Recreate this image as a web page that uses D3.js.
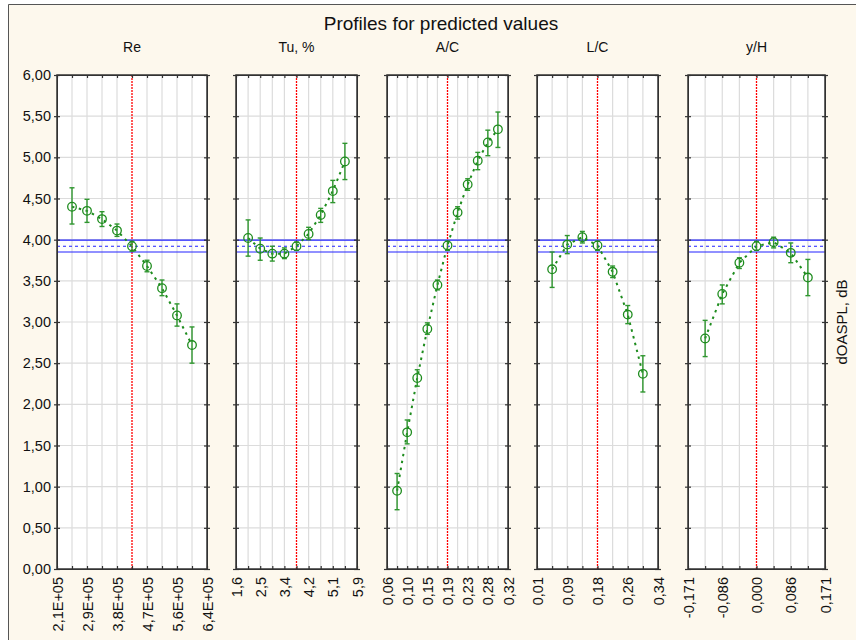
<!DOCTYPE html>
<html>
<head>
<meta charset="utf-8">
<script src="https://cdn.jsdelivr.net/npm/d3@7"></script>
<style>
  body { margin: 0; background: #ffffff; }
  svg text { font-family: "Liberation Sans", Arial, sans-serif; fill: #111; }
</style>
</head>
<body>
<svg id="chart" width="856" height="640"></svg>
<script>
// ---- data -------------------------------------------------------------
const chartTitle = "Profiles for predicted values";
const responseLabel = "dOASPL, dB";
const yTickValues = [0, 0.5, 1, 1.5, 2, 2.5, 3, 3.5, 4, 4.5, 5, 5.5, 6];

// overall prediction and its confidence band
const meanLevel = 3.92;
const bandLow = 3.85;
const bandHigh = 3.995;

const factorNames = ["Re", "Tu, %", "A/C", "L/C", "y/H"];

const reTickLabels = ["2,1E+05", "2,9E+05", "3,8E+05", "4,7E+05", "5,6E+05", "6,4E+05"];
const reValues = [4.40, 4.35, 4.25, 4.11, 3.92, 3.68, 3.41, 3.08, 2.72];
const reLower  = [4.19, 4.21, 4.16, 4.04, 3.86, 3.61, 3.32, 2.95, 2.50];
const reUpper  = [4.63, 4.49, 4.34, 4.19, 3.98, 3.75, 3.51, 3.22, 2.94];

const tuTickLabels = ["1,6", "2,5", "3,4", "4,2", "5,1", "5,9"];
const tuValues = [4.02, 3.89, 3.83, 3.83, 3.92, 4.07, 4.30, 4.59, 4.95];
const tuLower  = [3.80, 3.75, 3.74, 3.77, 3.87, 4.00, 4.21, 4.45, 4.73];
const tuUpper  = [4.24, 4.02, 3.92, 3.90, 3.97, 4.15, 4.38, 4.72, 5.17];

const acTickLabels = ["0,06", "0,10", "0,15", "0,19", "0,23", "0,28", "0,32"];
const acValues = [0.95, 1.66, 2.32, 2.915, 3.45, 3.93, 4.33, 4.67, 4.96, 5.18, 5.34];
const acLower  = [0.72, 1.52, 2.22, 2.85, 3.39, 3.87, 4.25, 4.60, 4.85, 5.02, 5.12];
const acUpper  = [1.16, 1.81, 2.42, 2.99, 3.51, 3.98, 4.40, 4.74, 5.06, 5.33, 5.55];

const lcTickLabels = ["0,01", "0,09", "0,18", "0,26", "0,34"];
const lcValues = [3.64, 3.94, 4.03, 3.93, 3.61, 3.09, 2.37];
const lcLower  = [3.42, 3.83, 3.96, 3.87, 3.54, 2.98, 2.15];
const lcUpper  = [3.85, 4.05, 4.10, 3.98, 3.68, 3.20, 2.59];

const yhTickLabels = ["-0,171", "-0,086", "0,000", "0,086", "0,171"];
const yhValues = [2.80, 3.34, 3.72, 3.92, 3.97, 3.84, 3.54];
const yhLower  = [2.58, 3.22, 3.65, 3.87, 3.90, 3.72, 3.32];
const yhUpper  = [3.02, 3.45, 3.78, 3.98, 4.03, 3.96, 3.76];

// ---- layout -----------------------------------------------------------
const plotTop = 75, plotBottom = 569;
const panelBounds = [[57, 207], [236, 357], [387, 508], [537, 658], [688, 825]];
const colors = {
  bg: "#fdf8ed", grid: "#dcdcdc", frame: "#333333",
  green: "#1e8c1e", errGreen: "#2f962f", red: "#ff0000", blue: "#2222ff"
};

const panels = [
  { name: factorNames[0], labels: reTickLabels, values: reValues, lower: reLower, upper: reUpper },
  { name: factorNames[1], labels: tuTickLabels, values: tuValues, lower: tuLower, upper: tuUpper },
  { name: factorNames[2], labels: acTickLabels, values: acValues, lower: acLower, upper: acUpper },
  { name: factorNames[3], labels: lcTickLabels, values: lcValues, lower: lcLower, upper: lcUpper },
  { name: factorNames[4], labels: yhTickLabels, values: yhValues, lower: yhLower, upper: yhUpper }
];

const locale = d3.formatLocale({ decimal: ",", thousands: " ", grouping: [3], currency: ["", ""] });
const fmt = locale.format(".2f");

const svg = d3.select("#chart");

// background and frame
svg.append("rect").attr("x", 8).attr("y", 4).attr("width", 848).attr("height", 636)
  .attr("fill", colors.bg);
svg.append("path").attr("d", "M8.5,640 V4.5 H856")
  .attr("fill", "none").attr("stroke", "#555").attr("stroke-width", 1);

const y = d3.scaleLinear().domain([0, 6]).range([plotBottom, plotTop]);

// title and response label
svg.append("text").attr("x", (panelBounds[0][0] + panelBounds[4][1]) / 2).attr("y", 30)
  .attr("text-anchor", "middle").style("font-size", "19px").text(chartTitle);

svg.append("text")
  .attr("transform", `translate(847,${(plotTop + plotBottom) / 2}) rotate(-90)`)
  .attr("text-anchor", "middle").style("font-size", "15px").text(responseLabel);

panels.forEach((p, i) => {
  const [x0, x1] = panelBounds[i];
  const nIntervals = (p.labels.length - 1) * 2;
  const x = d3.scaleLinear().domain([0, nIntervals]).range([x0, x1]);
  const pointIdx = p.values.map((_, k) => k + 1);
  const centerIdx = nIntervals / 2;
  const g = svg.append("g");

  g.append("rect").attr("x", x0).attr("y", plotTop).attr("width", x1 - x0)
    .attr("height", plotBottom - plotTop).attr("fill", "#fff");

  // grid
  g.append("g").selectAll("line").data(d3.range(1, nIntervals).filter(d => d !== centerIdx)).join("line")
    .attr("x1", d => x(d)).attr("x2", d => x(d)).attr("y1", plotTop).attr("y2", plotBottom)
    .attr("stroke", colors.grid).attr("stroke-width", 1.2);
  g.append("g").selectAll("line").data(yTickValues.slice(1, -1)).join("line")
    .attr("x1", x0).attr("x2", x1).attr("y1", d => y(d)).attr("y2", d => y(d))
    .attr("stroke", colors.grid).attr("stroke-width", 1.2);

  // current factor setting
  g.append("line").attr("x1", x(centerIdx)).attr("x2", x(centerIdx))
    .attr("y1", plotTop).attr("y2", plotBottom)
    .attr("stroke", colors.red).attr("stroke-width", 1.3).attr("stroke-dasharray", "2,1");

  // mean prediction and confidence band
  [bandHigh, bandLow].forEach(v => {
    g.append("line").attr("x1", x0).attr("x2", x1).attr("y1", y(v)).attr("y2", y(v))
      .attr("stroke", colors.blue).attr("stroke-width", 1.2);
  });
  g.append("line").attr("x1", x0).attr("x2", x1).attr("y1", y(meanLevel)).attr("y2", y(meanLevel))
    .attr("stroke", colors.blue).attr("stroke-width", 1.2).attr("stroke-dasharray", "3,3");

  // profile line
  const line = d3.line().x((d, k) => x(pointIdx[k])).y(d => y(d));
  g.append("path").datum(p.values).attr("d", line).attr("fill", "none")
    .attr("stroke", colors.green).attr("stroke-width", 2).attr("stroke-dasharray", "2.5,4.5");

  // error bars
  const eb = g.append("g").attr("stroke", colors.errGreen).attr("stroke-width", 1.4);
  p.values.forEach((v, k) => {
    const cx = x(pointIdx[k]);
    eb.append("line").attr("x1", cx).attr("x2", cx).attr("y1", y(p.lower[k])).attr("y2", y(p.upper[k]));
    eb.append("line").attr("x1", cx - 2.5).attr("x2", cx + 2.5).attr("y1", y(p.lower[k])).attr("y2", y(p.lower[k]));
    eb.append("line").attr("x1", cx - 2.5).attr("x2", cx + 2.5).attr("y1", y(p.upper[k])).attr("y2", y(p.upper[k]));
  });

  // markers
  g.append("g").selectAll("circle").data(p.values).join("circle")
    .attr("cx", (d, k) => x(pointIdx[k])).attr("cy", d => y(d)).attr("r", 4.3)
    .attr("fill", "none").attr("stroke", colors.green).attr("stroke-width", 1.3);

  // axes: y ticks on both edges, x minor ticks top and bottom
  const yLeft = g.append("g").attr("transform", `translate(${x0},0)`)
    .call(d3.axisLeft(y).tickValues(yTickValues).tickSizeInner(3).tickSizeOuter(0)
      .tickFormat(i === 0 ? fmt : () => ""));
  yLeft.selectAll(".tick line").attr("x2", 3).attr("x1", -3);
  const yRight = g.append("g").attr("transform", `translate(${x1},0)`)
    .call(d3.axisRight(y).tickValues(yTickValues).tickSizeInner(3).tickSizeOuter(0).tickFormat(() => ""));
  yRight.selectAll(".tick line").attr("x1", -3).attr("x2", 3);

  g.append("g").attr("transform", `translate(0,${plotBottom})`)
    .call(d3.axisBottom(x).tickValues(d3.range(0, nIntervals + 1)).tickSizeInner(-3).tickSizeOuter(0).tickFormat(() => ""));
  g.append("g").attr("transform", `translate(0,${plotTop})`)
    .call(d3.axisTop(x).tickValues(d3.range(0, nIntervals + 1)).tickSizeInner(-3).tickSizeOuter(0).tickFormat(() => ""));

  const xl = g.append("g").attr("transform", `translate(0,${plotBottom})`)
    .call(d3.axisBottom(x).tickValues(d3.range(0, nIntervals + 1, 2)).tickSize(0)
      .tickFormat((d, k) => p.labels[k]));
  xl.select(".domain").remove();
  xl.selectAll("text")
    .attr("x", 0).attr("y", 0).attr("dy", "0.35em")
    .attr("transform", "translate(0,8) rotate(-90)")
    .attr("text-anchor", "end");

  g.selectAll(".tick text").style("font-size", "14.5px").style("font-family", '"Liberation Sans", Arial, sans-serif').attr("fill", "#111");
  g.selectAll(".domain").attr("stroke", colors.frame);
  g.selectAll(".tick line").attr("stroke", colors.frame).attr("stroke-width", 1.2);

  // panel frame
  g.append("rect").attr("x", x0).attr("y", plotTop).attr("width", x1 - x0)
    .attr("height", plotBottom - plotTop).attr("fill", "none")
    .attr("stroke", colors.frame).attr("stroke-width", 1.5);

  // factor name
  svg.append("text").attr("x", (x0 + x1) / 2).attr("y", 52).attr("text-anchor", "middle")
    .style("font-size", "14px").text(p.name);
});
</script>
</body>
</html>
